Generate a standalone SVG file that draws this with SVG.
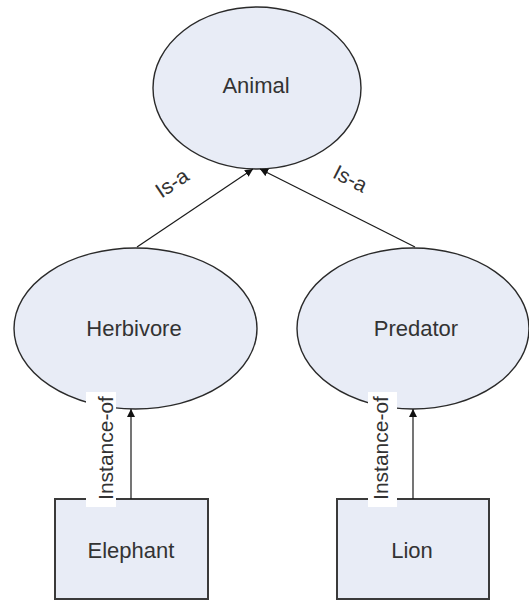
<svg xmlns="http://www.w3.org/2000/svg" width="529" height="601" viewBox="0 0 529 601">
  <style>
    .shape { fill: #e8ecf6; stroke: #2a2a2a; stroke-width: 1.4; }
    .box { fill: #e8ecf6; stroke: #3a3a3a; stroke-width: 2; }
    .label { font-family: "Liberation Sans", Arial, sans-serif; font-size: 22px; fill: #333; text-anchor: middle; }
    .edge { stroke: #1a1a1a; stroke-width: 1.2; fill: none; marker-end: url(#arrow); }
    .elabel { font-family: "Liberation Sans", Arial, sans-serif; font-size: 21px; fill: #333; text-anchor: middle; }
  </style>
  <defs>
    <marker id="arrow" viewBox="0 0 10 10" refX="10" refY="5" markerWidth="8" markerHeight="8" markerUnits="userSpaceOnUse" orient="auto">
      <path d="M0,0 L10,5 L0,10 z" fill="#111"/>
    </marker>
  </defs>
  <rect width="529" height="601" fill="#fff"/>

  <g id="animal">
    <ellipse class="shape" cx="257" cy="88" rx="104" ry="81"/>
    <text class="label" x="256" y="93">Animal</text>
  </g>
  <g id="herbivore">
    <ellipse class="shape" cx="135.5" cy="328.5" rx="121.5" ry="80.5"/>
    <text class="label" x="134" y="336">Herbivore</text>
  </g>
  <g id="predator">
    <ellipse class="shape" cx="413" cy="328.5" rx="116" ry="80.5"/>
    <text class="label" x="416" y="336">Predator</text>
  </g>
  <g id="elephant">
    <rect class="box" x="55" y="499" width="153" height="100"/>
    <text class="label" x="131" y="558">Elephant</text>
  </g>
  <g id="lion">
    <rect class="box" x="337" y="499" width="152" height="100"/>
    <text class="label" x="412" y="558">Lion</text>
  </g>

  <g id="connectors">
    <line class="edge" x1="137" y1="247" x2="253" y2="169"/>
    <line class="edge" x1="415" y1="247" x2="260" y2="169"/>
    <line class="edge" x1="131" y1="499" x2="131" y2="409"/>
    <line class="edge" x1="413" y1="499" x2="413" y2="409"/>
    <text class="elabel" transform="translate(176,189) rotate(-34)">Is-a</text>
    <text class="elabel" transform="translate(347,185) rotate(27)">Is-a</text>
    <rect x="86" y="392" width="30" height="115" fill="#fff"/>
    <text class="elabel" transform="translate(113,448) rotate(-90)">Instance-of</text>
    <rect x="368" y="392" width="29" height="115" fill="#fff"/>
    <text class="elabel" transform="translate(388,448) rotate(-90)">Instance-of</text>
  </g>
</svg>
